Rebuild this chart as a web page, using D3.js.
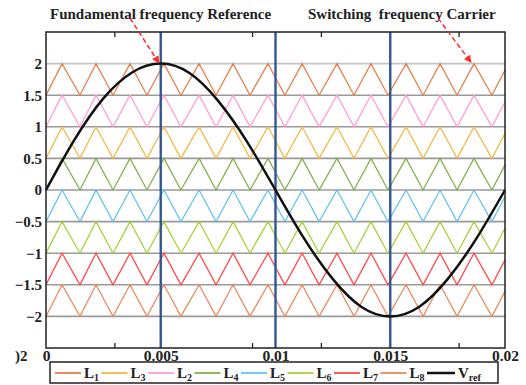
<!DOCTYPE html>
<html>
<head>
<meta charset="utf-8">
<script src="https://cdn.jsdelivr.net/npm/d3@7"></script>
<style>
  body { margin: 0; background: #fff; }
  svg { display: block; }
  text { font-family: "Liberation Serif", "Times New Roman", serif; font-weight: bold; fill: #222; }
</style>
</head>
<body>
<svg id="chart" width="526" height="385"></svg>
<script>
// carrier bands (lower edge of each 0.5-wide band)
const carrierNames = ["L1", "L2", "L3", "L4", "L5", "L6", "L7", "L8"];
const carrierBase = [1.5, 1, 0.5, 0, -0.5, -1, -1.5, -2];
// carrier vertex times (all carriers in phase)
const troughTimes = [0, 0.00148, 0.00292, 0.00440, 0.00588, 0.00741, 0.00889, 0.01041, 0.01190, 0.01342, 0.01490, 0.01643, 0.01791, 0.01943];
const peakTimes = [0.00070, 0.00218, 0.00366, 0.00514, 0.00667, 0.00815, 0.00967, 0.01116, 0.01268, 0.01416, 0.01569, 0.01717, 0.01865, 0.02015];
// reference voltage samples
const vrefTimes = [0, 0.00125, 0.0025, 0.00375, 0.005, 0.00625, 0.0075, 0.00875, 0.01, 0.01125, 0.0125, 0.01375, 0.015, 0.01625, 0.0175, 0.01875, 0.02];
const vrefValues = [0, 0.8, 1.45, 1.86, 2, 1.85, 1.41, 0.77, 0, -0.77, -1.41, -1.85, -2, -1.85, -1.41, -0.77, 0];

const yTicks = [2, 1.5, 1, 0.5, 0, -0.5, -1, -1.5, -2];
const xTicks = [0, 0.005, 0.01, 0.015, 0.02];
const xMinorTicks = [0.003, 0.009, 0.012, 0.018];
const markerTimes = [0.005, 0.01, 0.015];
const legendOrder = ["L1", "L3", "L2", "L4", "L5", "L6", "L7", "L8", "Vref"];

const colors = {
  L1: "#e4804e", L2: "#ffa0d6", L3: "#f4b844", L4: "#85b04f",
  L5: "#66c3f0", L6: "#a6d23c", L7: "#ff4b4b", L8: "#ea8b5d", Vref: "#111"
};

const svg = d3.select("#chart");
const plotLeft = 46, plotRight = 505, plotTop = 32, plotBottom = 348;

const x = d3.scaleLinear().domain([0, 0.02]).range([plotLeft, plotRight]);
const y = d3.scaleLinear().domain([-2.5, 2.5]).range([plotBottom, plotTop]);

const defs = svg.append("defs");
defs.append("clipPath").attr("id", "plot-clip")
  .append("rect").attr("x", plotLeft).attr("y", plotTop)
  .attr("width", plotRight - plotLeft).attr("height", plotBottom - plotTop);
defs.append("marker")
  .attr("id", "arrow-head")
  .attr("viewBox", "0 0 10 10")
  .attr("refX", 9).attr("refY", 5)
  .attr("markerWidth", 5).attr("markerHeight", 5)
  .attr("orient", "auto")
  .append("path").attr("d", "M0,0L10,5L0,10z").attr("fill", "#ff2a2a");

// grid lines
svg.append("g")
  .selectAll("line")
  .data(yTicks)
  .join("line")
  .attr("x1", plotLeft).attr("x2", plotRight)
  .attr("y1", d => y(d)).attr("y2", d => y(d))
  .attr("stroke", d => d === 2 ? "#c4c4c4" : "#9a9a9a")
  .attr("stroke-width", 1.6);

// carriers
const vertices = troughTimes.map(t => ({ t, v: 0 }))
  .concat(peakTimes.map(t => ({ t, v: 0.5 })))
  .sort((a, b) => a.t - b.t);

const carrierLine = d3.line()
  .x(d => x(d.t))
  .y(d => y(d.v));

svg.append("g")
  .attr("id", "carriers")
  .attr("clip-path", "url(#plot-clip)")
  .selectAll("path")
  .data(carrierNames)
  .join("path")
  .attr("fill", "none")
  .attr("stroke", d => colors[d])
  .attr("stroke-width", 1.3)
  .attr("d", (d, i) => carrierLine(vertices.map(p => ({ t: p.t, v: carrierBase[i] + p.v }))));

// blue marker lines
svg.append("g")
  .selectAll("line")
  .data(markerTimes)
  .join("line")
  .attr("x1", d => x(d)).attr("x2", d => x(d))
  .attr("y1", plotTop).attr("y2", plotBottom)
  .attr("stroke", "#34578f")
  .attr("stroke-width", 2.4);

// reference
const vrefLine = d3.line()
  .x(d => x(d[0]))
  .y(d => y(d[1]))
  .curve(d3.curveNatural);

svg.append("path")
  .datum(d3.zip(vrefTimes, vrefValues))
  .attr("fill", "none")
  .attr("stroke", colors.Vref)
  .attr("stroke-width", 2.5)
  .attr("d", vrefLine);

// frame
svg.append("rect")
  .attr("x", plotLeft).attr("y", plotTop)
  .attr("width", plotRight - plotLeft).attr("height", plotBottom - plotTop)
  .attr("fill", "none")
  .attr("stroke", "#222")
  .attr("stroke-width", 1.5);

// minor ticks, top and bottom
const minor = svg.append("g").attr("stroke", "#222").attr("stroke-width", 1.3);
minor.selectAll(".tb").data(xMinorTicks).join("line").attr("class", "tb")
  .attr("x1", d => x(d)).attr("x2", d => x(d)).attr("y1", plotTop).attr("y2", plotTop + 5);
minor.selectAll(".bt").data(xMinorTicks).join("line").attr("class", "bt")
  .attr("x1", d => x(d)).attr("x2", d => x(d)).attr("y1", plotBottom).attr("y2", plotBottom - 5);

// axes
const yAxis = svg.append("g")
  .attr("transform", `translate(${plotLeft},0)`)
  .call(d3.axisLeft(y).tickValues(yTicks).tickSize(0).tickPadding(4).tickFormat(d3.format("")));
yAxis.select(".domain").remove();
yAxis.selectAll("text").attr("font-size", 15).attr("font-family", null).attr("fill", null);

const xAxis = svg.append("g")
  .attr("transform", `translate(0,${plotBottom})`)
  .call(d3.axisBottom(x).tickValues(xTicks).tickSize(0).tickPadding(2).tickFormat(d3.format("")));
xAxis.select(".domain").remove();
xAxis.selectAll("text").attr("font-size", 15.5).attr("font-family", null).attr("fill", null);

svg.append("text")
  .attr("x", 15).attr("y", 361)
  .attr("font-size", 15)
  .text(")2");

// annotations
svg.append("text").attr("x", 50).attr("y", 19).attr("font-size", 15)
  .text("Fundamental frequency Reference");
svg.append("text").attr("x", 308).attr("y", 19).attr("font-size", 15)
  .attr("xml:space", "preserve")
  .text("Switching  frequency Carrier");

const arrows = [
  { from: [0.00366, 2.72], to: [0.00492, 2.01] },
  { from: [0.01708, 2.72], to: [0.01852, 2.02] },
];
svg.append("g")
  .selectAll("line")
  .data(arrows)
  .join("line")
  .attr("x1", d => x(d.from[0])).attr("y1", d => y(d.from[1]))
  .attr("x2", d => x(d.to[0])).attr("y2", d => y(d.to[1]))
  .attr("stroke", "#ff2a2a")
  .attr("stroke-width", 1.5)
  .attr("stroke-dasharray", "5,3")
  .attr("marker-end", "url(#arrow-head)");

// legend
const legend = svg.append("g");
legend.append("rect")
  .attr("x", 50).attr("y", 362)
  .attr("width", 448).attr("height", 21)
  .attr("fill", "#fff")
  .attr("stroke", "#222")
  .attr("stroke-width", 1.5);

const legendX = d3.scalePoint().domain(legendOrder).range([55, 427]);
const items = legend.selectAll("g.item")
  .data(legendOrder)
  .join("g")
  .attr("class", "item")
  .attr("transform", d => `translate(${legendX(d)},373)`);
items.append("line")
  .attr("x1", 0).attr("x2", d => d === "Vref" ? 28 : 26)
  .attr("stroke", d => colors[d])
  .attr("stroke-width", d => d === "Vref" ? 2.5 : 1.8);
const labels = items.append("text")
  .attr("x", d => d === "Vref" ? 31 : 29)
  .attr("y", 5)
  .attr("font-size", 15);
labels.append("tspan").text(d => d.charAt(0));
labels.append("tspan")
  .attr("font-size", 10)
  .attr("dy", 3)
  .text(d => d.slice(1));
</script>
</body>
</html>
